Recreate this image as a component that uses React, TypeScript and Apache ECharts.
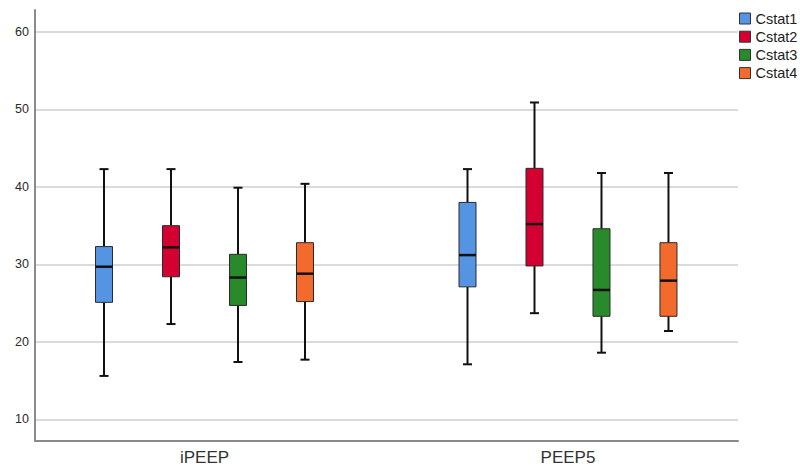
import React, { useEffect, useRef } from "react";
import * as echarts from "echarts";

const groups = ["iPEEP", "PEEP5"];
const seriesNames = ["Cstat1", "Cstat2", "Cstat3", "Cstat4"];
const colors = ["#5594e2", "#d50032", "#288a2a", "#f26a2c"];
// each row: [min, q1, median, q3, max] for iPEEP, PEEP5
const cstat1 = [
  [15.6, 25.1, 29.7, 32.3, 42.3],
  [17.1, 27.1, 31.2, 38.0, 42.3],
];
const cstat2 = [
  [22.3, 28.4, 32.2, 35.0, 42.3],
  [23.7, 29.8, 35.2, 42.4, 50.9],
];
const cstat3 = [
  [17.4, 24.7, 28.3, 31.3, 39.9],
  [18.6, 23.3, 26.7, 34.6, 41.8],
];
const cstat4 = [
  [17.7, 25.2, 28.8, 32.8, 40.4],
  [21.4, 23.3, 27.9, 32.8, 41.8],
];
const allStats = [cstat1, cstat2, cstat3, cstat4];
const yTicks = [10, 20, 30, 40, 50, 60];

const FONT = "'Liberation Sans', Arial, sans-serif";

export default function App() {
  const ref = useRef<HTMLDivElement>(null);
  useEffect(() => {
    document.body.style.margin = "0";
    if (!ref.current) return;
    const chart = echarts.init(ref.current, null, { renderer: "svg" });
    const slot = 0.1843;
    const series = allStats.map((stats, s) => ({
      type: "custom",
      name: seriesNames[s],
      itemStyle: { color: colors[s] },
      encode: { x: 0, y: [1, 2, 3, 4, 5] },
      data: stats.map((row, g) => [g, ...row]),
      renderItem: (params: any, api: any) => {
        const g = api.value(0);
        const unit = api.size([1, 0])[0];
        const off = (s - 1.5) * slot * unit;
        const pMin = api.coord([g, api.value(1)]);
        const pQ1 = api.coord([g, api.value(2)]);
        const pMed = api.coord([g, api.value(3)]);
        const pQ3 = api.coord([g, api.value(4)]);
        const pMax = api.coord([g, api.value(5)]);
        const cx = pMin[0] + off;
        const bw = 17;
        const cap = 9;
        const lineStyle = { stroke: "#111", lineWidth: 2 };
        return {
          type: "group",
          children: [
            { type: "line", shape: { x1: cx, y1: pMin[1], x2: cx, y2: pQ1[1] }, style: lineStyle },
            { type: "line", shape: { x1: cx, y1: pQ3[1], x2: cx, y2: pMax[1] }, style: lineStyle },
            { type: "line", shape: { x1: cx - cap / 2, y1: pMin[1], x2: cx + cap / 2, y2: pMin[1] }, style: lineStyle },
            { type: "line", shape: { x1: cx - cap / 2, y1: pMax[1], x2: cx + cap / 2, y2: pMax[1] }, style: lineStyle },
            {
              type: "rect",
              shape: { x: cx - bw / 2, y: pQ3[1], width: bw, height: pQ1[1] - pQ3[1] },
              style: { fill: colors[s], stroke: "#2a2a2a", lineWidth: 1 },
            },
            {
              type: "line",
              shape: { x1: cx - bw / 2, y1: pMed[1], x2: cx + bw / 2, y2: pMed[1] },
              style: { stroke: "#111", lineWidth: 2.5 },
            },
          ],
        };
      },
    }));
    chart.setOption({
      animation: false,
      backgroundColor: "#ffffff",
      textStyle: { fontFamily: FONT },
      legend: {
        orient: "vertical",
        left: 734,
        top: 6,
        itemWidth: 11,
        itemHeight: 11,
        itemGap: 3.2,
        icon: "rect",
        textStyle: { fontSize: 14.5, color: "#222", fontFamily: FONT },
        data: seriesNames.map((n, i) => ({
          name: n,
          itemStyle: { color: colors[i], borderColor: "#333", borderWidth: 1 },
        })),
      },
      grid: { left: 35, top: 10, right: 62, bottom: 26, containLabel: false },
      xAxis: {
        type: "value",
        min: -0.4663,
        max: 1.4677,
        axisLine: { show: true, onZero: false, lineStyle: { color: "#8a8a8a", width: 2 } },
        axisTick: { show: false },
        splitLine: { show: false },
        axisLabel: {
          customValues: [0, 1],
          formatter: (v: number) => groups[Math.round(v)] ?? "",
          fontSize: 17,
          color: "#333",
          margin: 8,
          fontFamily: FONT,
        },
      },
      yAxis: {
        type: "value",
        min: 7.2,
        max: 62.84,
        splitNumber: 5,
        axisLine: { show: true, onZero: false, lineStyle: { color: "#8a8a8a", width: 2 } },
        axisTick: { show: false },
        axisLabel: {
          customValues: yTicks,
          fontSize: 12.5,
          color: "#2a2a2a",
          margin: 6,
          fontFamily: FONT,
        },
        splitLine: {
          show: true,
          showMinLine: false,
          showMaxLine: false,
          lineStyle: { color: "#cfcfcf", width: 1.5 },
        },
      },
      series,
    });
    return () => chart.dispose();
  }, []);
  return <div ref={ref} style={{ width: 800, height: 467 }} />;
}
